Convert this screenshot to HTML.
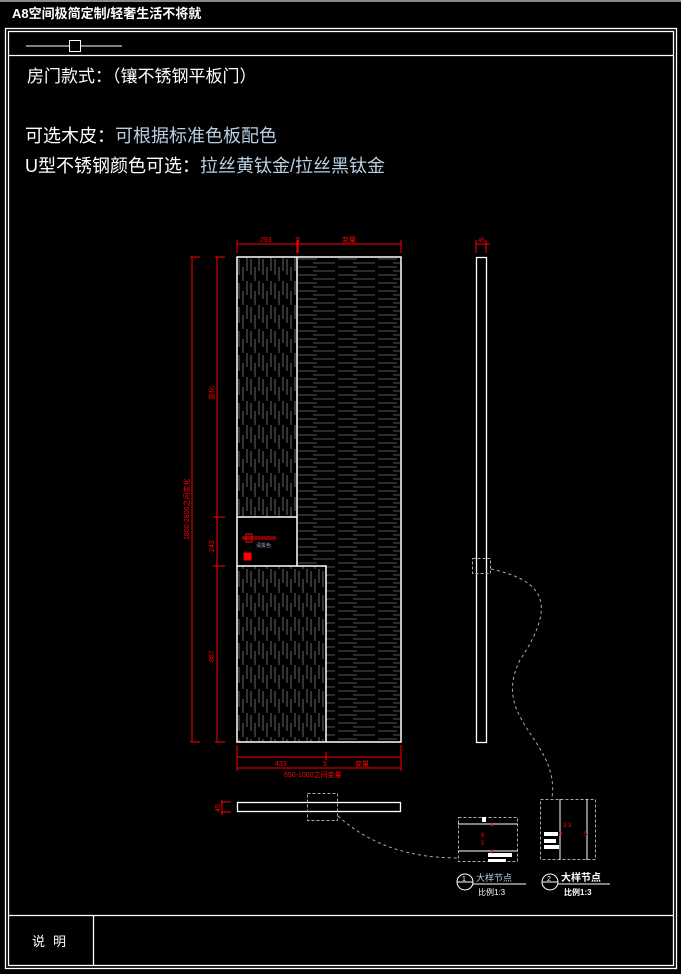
<!DOCTYPE html>
<html><head><meta charset="utf-8"><style>
html,body{margin:0;padding:0;background:#000;width:681px;height:974px;overflow:hidden}
svg{display:block}
text{font-family:"Liberation Sans","Noto Sans CJK SC",sans-serif}
</style></head><body>
<svg width="681" height="974" viewBox="0 0 681 974" xmlns="http://www.w3.org/2000/svg">
<defs>
<pattern id="vert" x="237" y="257" width="12" height="24" patternUnits="userSpaceOnUse">
<line x1="2" y1="2" x2="2" y2="18" stroke="#808080" stroke-width="0.8"/>
<line x1="6" y1="10" x2="6" y2="24" stroke="#808080" stroke-width="0.8"/>
<line x1="10" y1="0" x2="10" y2="14" stroke="#808080" stroke-width="0.8"/>
</pattern>
<pattern id="hor" x="297" y="257" width="40" height="8" patternUnits="userSpaceOnUse">
<line x1="1" y1="2" x2="20" y2="2" stroke="#707070" stroke-width="0.8"/>
<line x1="16" y1="6" x2="38" y2="6" stroke="#707070" stroke-width="0.8"/>
</pattern>
</defs>
<rect width="681" height="974" fill="#000"/>
<line x1="0" y1="1" x2="681" y2="1" stroke="#888" stroke-width="2"/>
<text x="12" y="18" font-size="13" font-weight="bold" fill="#fff">A8空间极简定制/轻奢生活不将就</text>
<rect x="5.5" y="28.5" width="671" height="940" fill="none" stroke="#fff" stroke-width="1.3"/>
<rect x="8.5" y="31.5" width="665" height="934" fill="none" stroke="#fff" stroke-width="1.3"/>
<line x1="8" y1="55.5" x2="674" y2="55.5" stroke="#fff" stroke-width="1.3"/>
<line x1="26" y1="46" x2="122" y2="46" stroke="#fff"/>
<rect x="69.5" y="40.5" width="11" height="11" fill="#000" stroke="#fff"/>
<line x1="8" y1="915.5" x2="674" y2="915.5" stroke="#fff" stroke-width="1.3"/>
<line x1="93.5" y1="915" x2="93.5" y2="966" stroke="#fff" stroke-width="1.3"/>
<text x="32" y="946" font-size="13" fill="#fff" letter-spacing="8">说明</text>
<text x="27" y="82" font-size="17" fill="#fff">房门款式：（镶不锈钢平板门）</text>
<text x="25" y="142" font-size="18" fill="#fff">可选木皮：<tspan fill="#b8d0e6">可根据标准色板配色</tspan></text>
<text x="25" y="172" font-size="18" fill="#fff">U型不锈钢颜色可选：<tspan fill="#b8d0e6">拉丝黄钛金/拉丝黑钛金</tspan></text>
<rect x="237" y="257" width="60" height="260" fill="url(#vert)"/>
<rect x="237" y="566" width="89" height="176" fill="url(#vert)"/>
<path d="M297 257 H401 V742 H326 V566 H297 Z" fill="url(#hor)"/>
<g fill="none" stroke="#fff" stroke-width="1.5">
<rect x="237" y="257" width="164" height="485"/>
<polyline points="297,257 297,566 326,566 326,742"/>
<line x1="237" y1="517" x2="297" y2="517"/>
<line x1="237" y1="566" x2="297" y2="566"/>
</g>
<g stroke="#f00" fill="none" stroke-width="1">
<rect x="243" y="537" width="32" height="2"/>
<rect x="246" y="534" width="6" height="8"/>
<rect x="244" y="553" width="7" height="7" fill="#f00"/>
</g>
<text x="256" y="547" font-size="5" fill="#9ab">请拔色</text>
<g stroke="#f00" stroke-width="1" fill="none">
<line x1="237" y1="244" x2="401" y2="244"/>
<line x1="237" y1="240" x2="237" y2="253"/>
<line x1="297" y1="240" x2="297" y2="253"/>
<line x1="298" y1="240" x2="298" y2="253"/>
<line x1="401" y1="240" x2="401" y2="253"/>
<line x1="192" y1="257" x2="192" y2="742"/>
<line x1="217" y1="257" x2="217" y2="742"/>
<line x1="190" y1="257" x2="200" y2="257"/>
<line x1="215" y1="257" x2="225" y2="257"/>
<line x1="190" y1="742" x2="200" y2="742"/>
<line x1="215" y1="742" x2="225" y2="742"/>
<line x1="213" y1="517" x2="225" y2="517"/>
<line x1="213" y1="566" x2="225" y2="566"/>
<line x1="237" y1="745" x2="237" y2="771"/>
<line x1="401" y1="745" x2="401" y2="771"/>
<line x1="326" y1="752" x2="326" y2="760"/>
<line x1="237" y1="757" x2="401" y2="757"/>
<line x1="237" y1="768" x2="401" y2="768"/>
<line x1="476" y1="244" x2="490" y2="244"/>
<line x1="476" y1="240" x2="476" y2="253"/>
<line x1="486" y1="240" x2="486" y2="253"/>
<line x1="221" y1="802" x2="231" y2="802"/>
<line x1="221" y1="812" x2="231" y2="812"/>
<line x1="222" y1="800" x2="222" y2="815"/>
</g>
<g fill="#f00" font-size="7">
<text x="260" y="242">293</text>
<text x="296" y="242">5</text>
<text x="342" y="242">变量</text>
<text x="478" y="242" font-size="6">45</text>
<text x="275" y="766">433</text>
<text x="323" y="766">5</text>
<text x="355" y="766">变量</text>
<text x="284" y="777">650-1000之间变量</text>
<text transform="translate(214,400) rotate(-90)">变化</text>
<text transform="translate(189,540) rotate(-90)">1800-2800之间变化</text>
<text transform="translate(214,552) rotate(-90)">243</text>
<text transform="translate(214,662) rotate(-90)">867</text>
<text transform="translate(220,812) rotate(-90)">45</text>
</g>
<rect x="476.5" y="257.5" width="10" height="485" fill="none" stroke="#fff" stroke-width="1.3"/>
<rect x="472.5" y="558.5" width="18" height="15" fill="none" stroke="#aaa" stroke-dasharray="3,2"/>
<rect x="237.5" y="802.5" width="163" height="9" fill="none" stroke="#fff" stroke-width="1.3"/>
<rect x="307.5" y="793.5" width="30" height="27" fill="none" stroke="#aaa" stroke-dasharray="3,2"/>
<path d="M491 569 C540 580 560 600 520 660 C490 720 560 740 552 798" fill="none" stroke="#aaa" stroke-dasharray="3,3"/>
<path d="M338 816 C370 845 410 858 458 858" fill="none" stroke="#aaa" stroke-dasharray="3,3"/>
<rect x="458.5" y="817.5" width="59" height="44" fill="none" stroke="#aaa" stroke-dasharray="3,2"/>
<line x1="458" y1="824" x2="518" y2="824" stroke="#fff"/>
<line x1="458" y1="851" x2="518" y2="851" stroke="#fff"/>
<rect x="482" y="817" width="4" height="5" fill="#fff"/>
<rect x="488" y="853" width="24" height="4" fill="#fff"/>
<rect x="488" y="859" width="18" height="3" fill="#fff"/>
<g fill="#f00" font-size="6"><text x="490" y="827">4</text><text x="481" y="837">6</text><text x="481" y="845">5</text><text x="490" y="854">4</text></g>
<circle cx="465" cy="882" r="8" fill="none" stroke="#fff"/>
<line x1="457" y1="882" x2="473" y2="882" stroke="#fff"/>
<text x="462" y="881" font-size="7" fill="#fff">1</text>
<line x1="473" y1="884" x2="526" y2="884" stroke="#fff"/>
<text x="476" y="881" font-size="9" fill="#b8d0e6">大样节点</text>
<text x="478" y="895" font-size="8" fill="#fff">比例1:3</text>
<rect x="540.5" y="799.5" width="55" height="60" fill="none" stroke="#aaa" stroke-dasharray="3,2"/>
<line x1="560" y1="799" x2="560" y2="860" stroke="#fff"/>
<line x1="587" y1="799" x2="587" y2="860" stroke="#fff"/>
<rect x="544" y="832" width="14" height="4" fill="#fff"/>
<rect x="544" y="839" width="12" height="4" fill="#fff"/>
<rect x="544" y="845" width="15" height="4" fill="#fff"/>
<g fill="#f00" font-size="6"><text x="563" y="827">3 3</text><text x="559" y="836">9</text><text x="584" y="836">5</text></g>
<circle cx="550" cy="882" r="8" fill="none" stroke="#fff"/>
<line x1="542" y1="882" x2="558" y2="882" stroke="#fff"/>
<text x="547" y="881" font-size="7" fill="#fff">2</text>
<line x1="558" y1="884" x2="610" y2="884" stroke="#fff"/>
<text x="561" y="881" font-size="10" font-weight="bold" fill="#fff">大样节点</text>
<text x="564" y="895" font-size="8" font-weight="bold" fill="#fff">比例1:3</text>
</svg>
</body></html>
